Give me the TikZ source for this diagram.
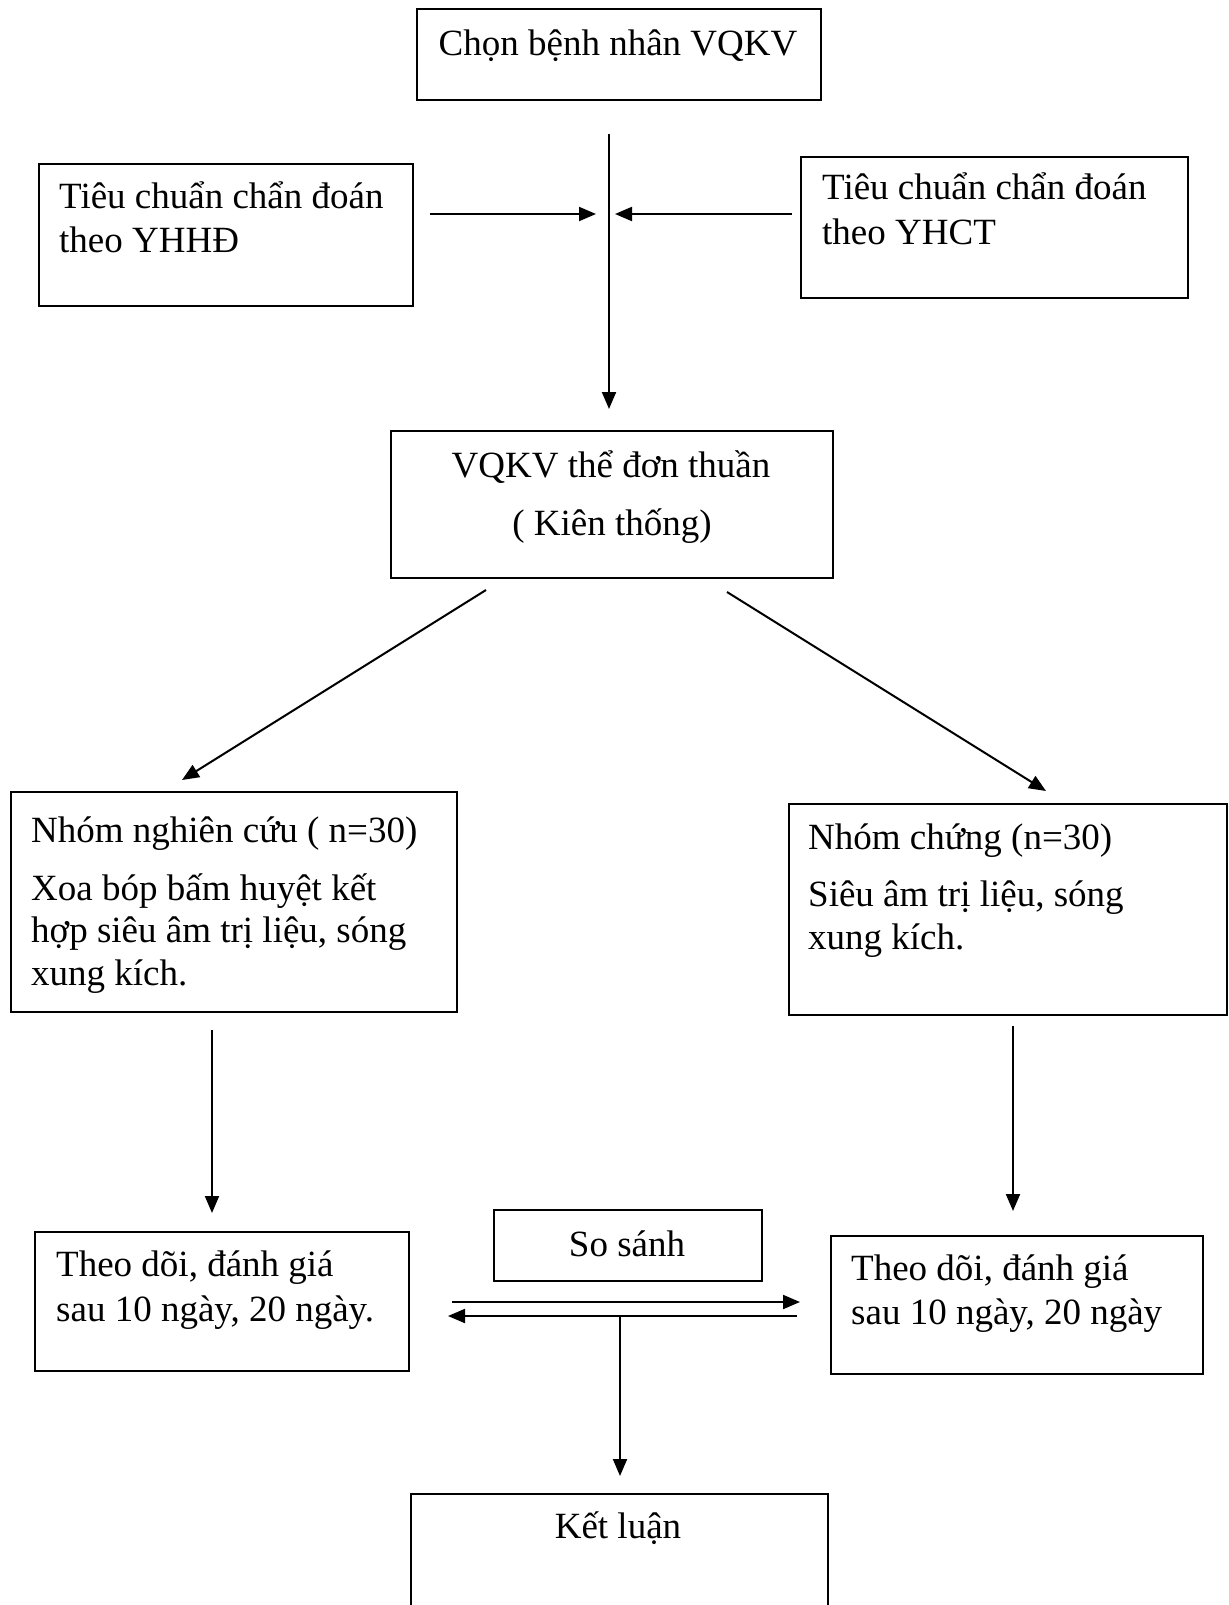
\documentclass[tikz,border=0pt]{standalone}
\usepackage{fontspec}
\setmainfont{Liberation Serif}
\usetikzlibrary{arrows.meta}
\begin{document}
\begin{tikzpicture}[x=1pt,y=-1pt,
  box/.style={draw, line width=1.8pt, inner sep=0pt, anchor=north west},
  txt/.style={inner sep=0pt, anchor=base west, font=\fontsize{37}{44}\selectfont},
  ctxt/.style={txt, anchor=base},
  arr/.style={line width=2pt, -{Triangle[length=17pt,width=14pt]}}]
\useasboundingbox (0,0) rectangle (1228,1605);
\clip (0,0) rectangle (1228,1605);
% boxes
\node[box, minimum width=404pt, minimum height=91pt] (b1) at (416,8) {};
\node[box, minimum width=374pt, minimum height=142pt] (bl) at (38,163) {};
\node[box, minimum width=387pt, minimum height=141pt] (br) at (800,156) {};
\node[box, minimum width=442pt, minimum height=147pt] (bv) at (390,430) {};
\node[box, minimum width=446pt, minimum height=220pt] (gl) at (10,791) {};
\node[box, minimum width=438pt, minimum height=211pt] (gr) at (788,803) {};
\node[box, minimum width=374pt, minimum height=139pt] (tl) at (34,1231) {};
\node[box, minimum width=372pt, minimum height=138pt] (tr) at (830,1235) {};
\node[box, minimum width=268pt, minimum height=71pt] (ss) at (493,1209) {};
\node[box, minimum width=417pt, minimum height=160pt] (kl) at (410,1493) {};
% texts
\node[ctxt] (t1) at (618,56) {Chọn bệnh nhân VQKV};
\node[txt] (tl1) at (59,209) {Tiêu chuẩn chẩn đoán};
\node[txt] (tl2) at (59,253) {theo YHHĐ};
\node[txt] (tr1) at (822,200) {Tiêu chuẩn chẩn đoán};
\node[txt] (tr2) at (822,245) {theo YHCT};
\node[ctxt] (tv1) at (611,477) {VQKV thể đơn thuần};
\node[ctxt] (tv2) at (612,535) {( Kiên thống)};
\node[txt] (g1) at (31,842) {Nhóm nghiên cứu ( n=30)};
\node[txt] (g2) at (31,900) {Xoa bóp bấm huyệt kết};
\node[txt] (g3) at (31,942) {hợp siêu âm trị liệu, sóng};
\node[txt] (g4) at (31,985) {xung kích.};
\node[txt] (h1) at (808,849) {Nhóm chứng (n=30)};
\node[txt] (h2) at (808,906) {Siêu âm trị liệu, sóng};
\node[txt] (h3) at (808,949) {xung kích.};
\node[txt] (d1) at (56,1276) {Theo dõi, đánh giá};
\node[txt] (d2) at (56,1321) {sau 10 ngày, 20 ngày.};
\node[txt] (e1) at (851,1280) {Theo dõi, đánh giá};
\node[txt] (e2) at (851,1324) {sau 10 ngày, 20 ngày};
\node[ctxt] (sst) at (627,1256) {So sánh};
\node[ctxt] (klt) at (618,1538) {Kết luận};
% connector end points
\coordinate (vtop) at (609,134);
\coordinate (vend) at (609,409);
\coordinate (la) at (430,214);
\coordinate (lb) at (596,214);
\coordinate (ra) at (792,214);
\coordinate (rb) at (615,214);
\coordinate (dl0) at (486,590);
\coordinate (dl1) at (182,780);
\coordinate (dr0) at (727,592);
\coordinate (dr1) at (1046,791);
\coordinate (vl0) at (212,1030);
\coordinate (vl1) at (212,1213);
\coordinate (vr0) at (1013,1026);
\coordinate (vr1) at (1013,1211);
\coordinate (c1a) at (452,1302);
\coordinate (c1b) at (800,1302);
\coordinate (c2a) at (797,1316);
\coordinate (c2b) at (448,1316);
\coordinate (k0) at (620,1316);
\coordinate (k1) at (620,1476);
% connectors
\draw[arr] (vtop) -- (vend);
\draw[arr] (la) -- (lb);
\draw[arr] (ra) -- (rb);
\draw[arr] (dl0) -- (dl1);
\draw[arr] (dr0) -- (dr1);
\draw[arr] (vl0) -- (vl1);
\draw[arr] (vr0) -- (vr1);
\draw[arr] (c1a) -- (c1b);
\draw[arr] (c2a) -- (c2b);
\draw[arr] (k0) -- (k1);
\end{tikzpicture}
\end{document}
